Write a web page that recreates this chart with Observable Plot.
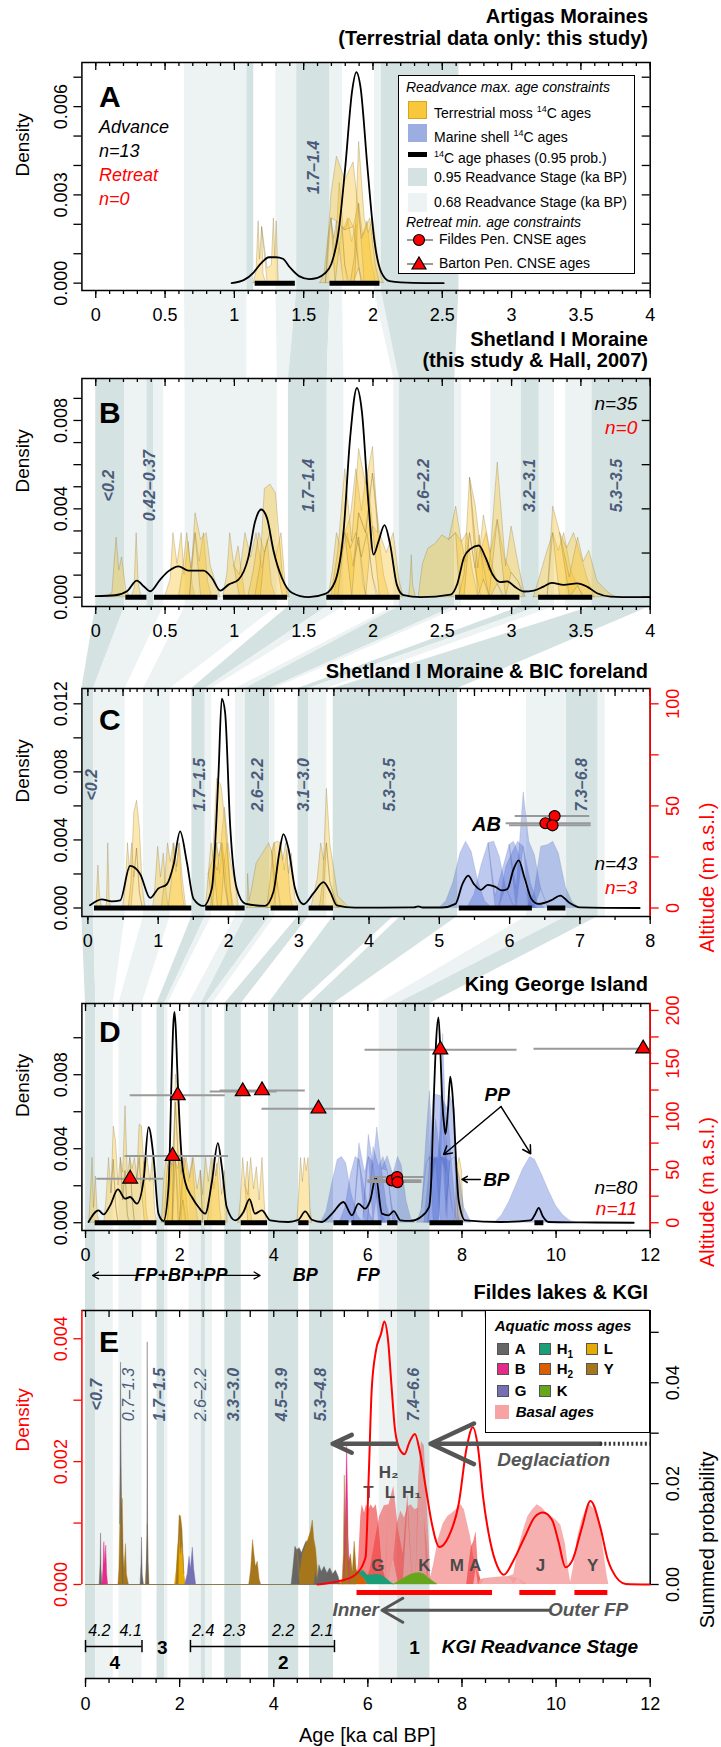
<!DOCTYPE html>
<html><head><meta charset="utf-8">
<script src="https://cdn.jsdelivr.net/npm/d3@7"></script>
<script src="https://cdn.jsdelivr.net/npm/@observablehq/plot@0.6"></script>
<style>
html,body{margin:0;padding:0;background:#fff;}
#root{position:relative;width:721px;height:1747px;overflow:hidden;font-family:"Liberation Sans",Arial,Helvetica,sans-serif;color:#000;}
.ttl{position:absolute;right:73px;font-weight:bold;font-size:20px;line-height:22px;white-space:nowrap;text-align:right;}
.lg{position:absolute;background:#fff;border:1.5px solid #000;box-sizing:border-box;}
.lg div{position:absolute;white-space:nowrap;line-height:18px;}
</style></head><body><div id="root"></div>
<script>
// ================= DATA =================
// stage bands [lo, hi, probability level]
const bandsA = [[0.64,1.09,68],[1.09,1.14,95],[1.30,1.45,68],[1.45,1.69,95],[1.69,1.78,68],[2.01,2.06,68],[2.06,2.62,95]];
const bandsB = [[0,0.21,95],[0.21,0.37,68],[0.37,0.42,95],[0.42,0.49,68],[0.645,1.31,68],[1.39,1.67,95],[1.67,1.79,68],[2.15,2.19,68],[2.19,2.59,95],[2.59,2.64,68],[2.85,3.07,68],[3.07,3.2,95],[3.2,3.31,68],[3.39,3.58,68],[3.58,4.0,95]];
const bandsC = [[-0.085,0.08,95],[0.08,0.53,68],[0.79,1.17,68],[1.48,1.67,95],[1.67,1.76,68],[2.1,2.24,68],[2.24,2.59,95],[2.59,2.66,68],[2.99,3.14,95],[3.14,3.4,68],[3.49,5.26,95],[6.24,6.81,68],[6.81,7.26,95],[7.26,7.36,68]];
const bandsD = [[0,0.22,95],[0.22,0.59,68],[0.71,1.2,68],[1.52,1.68,95],[1.68,1.75,68],[2.2,2.46,68],[2.46,2.56,95],[2.56,2.7,68],[2.96,3.31,95],[3.89,4.53,95],[4.76,5.27,95],[6.24,6.63,68],[6.63,7.32,95]];
const bandsE = bandsD;
// connectors between panels [fromLo, fromHi, toLo, toHi, level]
const linkAB = [[0.64,1.09,0.645,1.09,68],[1.30,1.45,1.31,1.39,68],[1.45,1.69,1.39,1.67,95],[1.69,1.78,1.67,1.79,68],[2.01,2.06,2.15,2.19,68],[2.06,2.62,2.19,2.59,95]];
const linkBC = [[0,0.21,-0.085,0.08,95],[0.21,0.49,0.08,0.53,68],[0.645,1.31,0.79,1.17,68],[1.39,1.67,1.48,1.67,95],[1.67,1.79,1.67,1.76,68],[2.15,2.19,2.1,2.24,68],[2.19,2.59,2.24,2.59,95],[2.59,2.64,2.59,2.66,68],[3.07,3.2,2.99,3.14,95],[3.2,3.31,3.14,3.4,68],[3.58,4.0,3.49,5.26,95]];
const linkCD = [[-0.085,0.08,0,0.22,95],[0.08,0.53,0.22,0.59,68],[0.79,1.17,0.71,1.2,68],[1.48,1.67,1.52,1.68,95],[1.67,1.76,1.68,1.75,68],[2.1,2.24,2.2,2.46,68],[2.24,2.59,2.46,2.56,95],[2.59,2.66,2.56,2.7,68],[2.99,3.14,2.96,3.31,95],[3.49,4.35,3.89,4.53,95],[4.45,5.26,4.76,5.27,95],[6.24,6.81,6.24,6.63,68],[6.81,7.26,6.63,7.32,95]];

// stage labels [x, text]
const stageLabA = [[1.57,"1.7–1.4"]];
const stageLabB = [[0.093,"<0.2"],[0.39,"0.42–0.37"],[1.535,"1.7–1.4"],[2.365,"2.6–2.2"],[3.13,"3.2–3.1"],[3.76,"5.3–3.5"]];
const stageLabC = [[0.05,"<0.2"],[1.6,"1.7–1.5"],[2.42,"2.6–2.2"],[3.07,"3.1–3.0"],[4.3,"5.3–3.5"],[7.03,"7.3–6.8"]];
const stageLabEbold = [[0.24,"<0.7"],[1.59,"1.7–1.5"],[3.15,"3.3–3.0"],[4.18,"4.5–3.9"],[5.0,"5.3–4.8"],[6.97,"7.4–6.6"]];
const stageLabEplain = [[0.93,"0.7–1.3"],[2.46,"2.6–2.2"]];

// 14C age phases (0.95)
const phasesA = [[1.15,1.44],[1.69,2.05]];
const phasesB = [[0.217,0.369],[0.424,0.881],[0.922,1.384],[1.667,2.197],[2.596,3.06],[3.195,3.585]];
const phasesC = [[0.094,1.478],[1.677,2.237],[2.607,2.996],[3.147,3.494],[5.284,6.324],[6.54,6.80]];
const phasesD = [[0.205,1.516],[1.69,2.47],[2.53,2.98],[3.31,3.87],[4.53,4.75],[5.28,5.6],[5.66,6.3],[6.42,6.64],[7.32,8.03],[9.55,9.74]];

// summed density curves [age, density]
const kdeA = [[0.98,0],[1.07,0.00011],[1.14,0.00037],[1.19,0.00066],[1.25,0.00088],[1.3,0.00088],[1.35,0.00083],[1.4,0.00054],[1.47,0.00023],[1.54,0.00014],[1.6,0.00018],[1.65,0.00032],[1.7,0.00066],[1.75,0.00168],[1.8,0.00394],[1.85,0.00655],[1.88,0.00717],[1.91,0.00666],[1.96,0.00394],[2.01,0.00145],[2.06,0.00037],[2.12,0.00007],[2.29,0.00001],[2.51,0]];
const kdeB = [[0,0.00005],[0.14,0.00009],[0.225,0.00027],[0.297,0.00075],[0.345,0.0005],[0.393,0.00027],[0.465,0.0008],[0.525,0.00118],[0.597,0.0014],[0.67,0.0012],[0.778,0.0012],[0.838,0.00087],[0.898,0.0003],[0.958,0.00057],[1.03,0.0008],[1.1,0.00178],[1.15,0.00344],[1.193,0.00397],[1.235,0.00359],[1.283,0.00208],[1.343,0.00087],[1.415,0.0002],[1.535,0],[1.655,0.00015],[1.727,0.00072],[1.788,0.003],[1.835,0.0072],[1.884,0.00947],[1.92,0.0084],[1.968,0.0042],[2.004,0.00193],[2.04,0.00253],[2.083,0.00326],[2.124,0.00238],[2.172,0.00057],[2.22,0.00009],[2.344,0],[2.56,0.00012],[2.608,0.0006],[2.656,0.0018],[2.704,0.00219],[2.764,0.00234],[2.812,0.0018],[2.86,0.00106],[2.92,0.00068],[2.968,0.00072],[3.028,0.00045],[3.088,0.00026],[3.16,0.0003],[3.23,0.00048],[3.29,0.00065],[3.376,0.00056],[3.472,0.00063],[3.544,0.00048],[3.617,0.00018],[3.713,0.00003],[3.88,0],[4.0,0]];
const kdeC = [[0.03,0.00016],[0.198,0.00051],[0.34,0.00039],[0.46,0.00045],[0.6,0.00247],[0.743,0.002],[0.886,0.00059],[1.0,0.00114],[1.12,0.00138],[1.218,0.00252],[1.312,0.0045],[1.407,0.00272],[1.502,0.00055],[1.644,0.00012],[1.763,0.00114],[1.858,0.00785],[1.905,0.0123],[1.952,0.0115],[2.024,0.00485],[2.118,0.00114],[2.237,0.00026],[2.52,0.00012],[2.64,0.00095],[2.725,0.0033],[2.782,0.00434],[2.853,0.0035],[2.948,0.00114],[3.067,0.00022],[3.21,0.00087],[3.352,0.00152],[3.447,0.00095],[3.541,0.00016],[3.8,0.00002],[4.64,0.00004],[4.7,0.0001],[4.76,0.00003],[5.04,0.00003],[5.23,0.00024],[5.33,0.00142],[5.41,0.0019],[5.49,0.00142],[5.59,0.00107],[5.69,0.00136],[5.79,0.00126],[5.89,0.00103],[5.97,0.00112],[6.05,0.00221],[6.13,0.0028],[6.21,0.00181],[6.31,0.00053],[6.41,0.00024],[6.6,0.00047],[6.72,0.00073],[6.84,0.00034],[7.0,0.00004],[7.85,0]];
const kdeD = [[0.064,0.00004],[0.276,0.00067],[0.383,0.00045],[0.524,0.00094],[0.687,0.0018],[0.843,0.0013],[0.949,0.00139],[1.09,0.00103],[1.233,0.00229],[1.339,0.00517],[1.445,0.00355],[1.55,0.00049],[1.658,0.00009],[1.764,0.00193],[1.835,0.0084],[1.865,0.0107],[1.89,0.0114],[1.918,0.0105],[1.948,0.0084],[2.047,0.00337],[2.118,0.0022],[2.26,0.00139],[2.4,0.00085],[2.543,0.00049],[2.685,0.0022],[2.812,0.0043],[2.897,0.003],[3.0,0.00085],[3.18,0.00013],[3.357,0.00058],[3.485,0.00128],[3.6,0.00049],[3.747,0.00067],[3.925,0.00013],[4.31,0.00004],[4.526,0.00016],[4.668,0.00061],[4.81,0.00016],[5.02,0.00004],[5.24,0.00049],[5.48,0.00112],[5.66,0.0004],[5.8,0.00103],[5.94,0.00076],[6.05,0.00121],[6.17,0.00247],[6.3,0.00049],[6.44,0.0004],[6.55,0.00063],[6.69,0.00013],[6.9,0.0001],[7.12,0.0003],[7.3,0.00085],[7.35,0.0025],[7.4,0.0066],[7.45,0.0098],[7.5,0.0111],[7.54,0.0093],[7.58,0.0066],[7.62,0.0053],[7.65,0.0048],[7.7,0.006],[7.75,0.0079],[7.79,0.0072],[7.83,0.0057],[7.88,0.003],[7.93,0.0012],[8.07,0.00013],[8.82,0.00004],[9.46,0.00013],[9.56,0.00049],[9.63,0.0008],[9.72,0.00034],[9.84,0.00004],[10.52,0.00002],[11.65,0]];

// terrestrial moss 14C age distributions [age, density]
const yellowA = [
 [[1.14,0],[1.16,0.0004],[1.175,0.0021],[1.185,0.0008],[1.2,0.0019],[1.21,0.0003],[1.23,0]],
 [[1.2,0],[1.24,0.0005],[1.27,0.0006],[1.285,0.0022],[1.295,0.0009],[1.305,0.0021],[1.32,0]],
 [[1.62,0],[1.65,0.0003],[1.68,0.0016],[1.7,0.0022],[1.72,0.0015],[1.74,0.0021],[1.76,0.0012],[1.78,0.0019],[1.8,0.0006],[1.82,0]],
 [[1.7,0],[1.73,0.001],[1.76,0.0022],[1.79,0.0018],[1.82,0.0022],[1.85,0.0014],[1.88,0.002],[1.9,0.0005],[1.92,0]],
 [[1.78,0],[1.8,0.0012],[1.83,0.0022],[1.86,0.0019],[1.9,0.0022],[1.93,0.0016],[1.96,0.0021],[1.99,0.0008],[2.02,0]],
 [[1.84,0],[1.87,0.0009],[1.9,0.0021],[1.94,0.0022],[1.97,0.0017],[2.0,0.0022],[2.03,0.0011],[2.06,0.0002],[2.08,0]],
 [[1.66,0],[1.7,0.0008],[1.74,0.0022],[1.8,0.0017],[1.86,0.0022],[1.92,0.0015],[1.98,0.0022],[2.02,0.0006],[2.05,0]]
];
const yellowB = [
 [[0.08,0],[0.12,0.0002],[0.15,0.0027],[0.17,0.0012],[0.19,0.0018],[0.22,0.0003],[0.25,0]],
 [[0.26,0],[0.28,0.0004],[0.295,0.0029],[0.31,0.0006],[0.33,0]],
 [[0.5,0],[0.54,0.0008],[0.56,0.0029],[0.59,0.0015],[0.62,0.0029],[0.64,0.001],[0.67,0.0025],[0.7,0.0005],[0.72,0]],
 [[0.6,0],[0.63,0.0012],[0.66,0.0029],[0.69,0.0013],[0.72,0.0029],[0.75,0.0016],[0.78,0.0029],[0.81,0.0007],[0.84,0]],
 [[0.68,0],[0.72,0.0009],[0.76,0.0026],[0.8,0.0029],[0.83,0.0014],[0.86,0.0008],[0.9,0]],
 [[0.92,0],[0.95,0.0011],[0.97,0.0029],[1.0,0.0014],[1.03,0.0023],[1.06,0.0009],[1.08,0]],
 [[1.0,0],[1.04,0.001],[1.08,0.0029],[1.12,0.0018],[1.16,0.0029],[1.2,0.0013],[1.24,0.0026],[1.27,0.0006],[1.3,0]],
 [[1.1,0],[1.14,0.0012],[1.18,0.0029],[1.22,0.002],[1.26,0.0029],[1.3,0.0018],[1.34,0.0029],[1.37,0.0006],[1.4,0]],
 [[1.15,0],[1.19,0.0015],[1.22,0.0029],[1.26,0.0022],[1.3,0.0029],[1.35,0.001],[1.39,0]],
 [[1.68,0],[1.71,0.0012],[1.74,0.0029],[1.78,0.002],[1.82,0.0029],[1.86,0.0014],[1.9,0.0027],[1.93,0.0006],[1.96,0]],
 [[1.72,0],[1.76,0.0016],[1.8,0.0029],[1.84,0.0022],[1.88,0.0029],[1.92,0.0018],[1.96,0.0029],[2.0,0.0009],[2.03,0]],
 [[1.8,0],[1.84,0.0014],[1.88,0.0029],[1.92,0.0021],[1.96,0.0029],[2.0,0.0023],[2.04,0.0029],[2.08,0.001],[2.12,0]],
 [[1.86,0],[1.9,0.0011],[1.95,0.0029],[2.0,0.0024],[2.05,0.0029],[2.1,0.002],[2.15,0.0029],[2.19,0.0008],[2.22,0]],
 [[1.7,0],[1.75,0.0021],[1.8,0.0029],[1.85,0.0025],[1.9,0.0029],[1.95,0.0022],[2.0,0.0012],[2.04,0]],
 [[2.26,0],[2.27,0.0006],[2.28,0.0019],[2.29,0.0005],[2.31,0]],
 [[2.33,0],[2.36,0.0015],[2.4,0.0022],[2.45,0.0024],[2.5,0.0028],[2.55,0.0026],[2.6,0.0029],[2.64,0.0025],[2.68,0.0029],[2.72,0.0012],[2.76,0]],
 [[2.55,0],[2.6,0.0012],[2.63,0.0029],[2.67,0.0016],[2.7,0.0029],[2.74,0.0013],[2.77,0.0028],[2.8,0.0008],[2.84,0]],
 [[2.62,0],[2.66,0.001],[2.7,0.0025],[2.74,0.0029],[2.78,0.0021],[2.82,0.0029],[2.86,0.0015],[2.9,0.0006],[2.94,0]],
 [[2.7,0],[2.76,0.0013],[2.8,0.0029],[2.85,0.002],[2.9,0.0029],[2.95,0.0018],[3.0,0.0011],[3.05,0.0007],[3.09,0]],
 [[2.78,0],[2.84,0.0012],[2.9,0.0026],[2.96,0.0014],[3.0,0.0021],[3.05,0.0008],[3.1,0]],
 [[3.16,0],[3.2,0.0008],[3.25,0.0019],[3.3,0.0029],[3.34,0.0021],[3.38,0.0029],[3.43,0.0012],[3.48,0.0005],[3.52,0]],
 [[3.26,0],[3.3,0.0012],[3.35,0.0029],[3.4,0.0022],[3.45,0.0029],[3.5,0.0019],[3.55,0.0008],[3.6,0]],
 [[3.35,0],[3.42,0.0009],[3.48,0.0022],[3.52,0.0016],[3.56,0.0021],[3.62,0.0007],[3.7,0.0002],[3.75,0]]
];
const yellowC = [
 [[0.12,0],[0.15,0.0025],[0.17,0.0008],[0.2,0],[0.27,0],[0.29,0.0038],[0.31,0.0005],[0.33,0]],
 [[0.5,0],[0.54,0.0012],[0.57,0.0038],[0.6,0.0022],[0.63,0.0038],[0.66,0.0018],[0.7,0.0035],[0.74,0.0009],[0.78,0]],
 [[0.58,0],[0.62,0.0015],[0.66,0.0038],[0.7,0.0028],[0.74,0.0038],[0.78,0.0012],[0.82,0]],
 [[0.93,0],[0.96,0.0012],[1.0,0.0036],[1.04,0.0018],[1.08,0.0032],[1.12,0.0009],[1.15,0]],
 [[1.05,0],[1.1,0.0016],[1.14,0.0038],[1.18,0.0027],[1.22,0.0038],[1.26,0.0021],[1.3,0.0038],[1.34,0.0011],[1.38,0]],
 [[1.15,0],[1.19,0.0014],[1.23,0.0038],[1.27,0.0024],[1.31,0.0038],[1.35,0.0017],[1.4,0]],
 [[1.68,0],[1.72,0.002],[1.76,0.0038],[1.8,0.0026],[1.84,0.0038],[1.88,0.002],[1.92,0.0038],[1.96,0.0012],[2.0,0]],
 [[1.75,0],[1.79,0.0018],[1.83,0.0038],[1.87,0.003],[1.91,0.0038],[1.95,0.0028],[1.99,0.0038],[2.04,0.001],[2.08,0]],
 [[1.8,0],[1.85,0.0022],[1.9,0.0038],[1.95,0.0031],[2.0,0.0038],[2.05,0.0024],[2.1,0.0015],[2.15,0]],
 [[1.72,0],[1.78,0.0028],[1.84,0.0038],[1.9,0.0034],[1.96,0.0038],[2.02,0.0016],[2.06,0]],
 [[2.27,0],[2.28,0.002],[2.3,0.0004],[2.34,0.0012],[2.4,0.0026],[2.46,0.003],[2.52,0.0034],[2.58,0.0038],[2.62,0.0033],[2.66,0.0038],[2.7,0.0015],[2.74,0]],
 [[2.55,0],[2.6,0.0016],[2.65,0.0038],[2.7,0.0024],[2.75,0.0038],[2.8,0.0022],[2.84,0.0034],[2.88,0.0008],[2.92,0]],
 [[2.62,0],[2.68,0.0014],[2.74,0.0038],[2.78,0.0028],[2.82,0.0038],[2.86,0.002],[2.9,0.0032],[2.95,0.0006],[3.0,0]],
 [[3.18,0],[3.22,0.0008],[3.27,0.0017],[3.32,0.0038],[3.36,0.0028],[3.4,0.0038],[3.45,0.0015],[3.5,0.0008],[3.58,0]],
 [[3.3,0],[3.35,0.0016],[3.4,0.0032],[3.45,0.0022],[3.5,0.0016],[3.56,0.0007],[3.65,0.0003],[3.72,0]]
];
const yellowD = [
 [[0.08,0],[0.12,0.0018],[0.15,0.0035],[0.18,0.0008],[0.22,0.0025],[0.26,0.0004],[0.3,0]],
 [[0.4,0],[0.45,0.0014],[0.5,0.0035],[0.55,0.0016],[0.6,0.0034],[0.65,0.0009],[0.7,0]],
 [[0.55,0],[0.6,0.0018],[0.65,0.0035],[0.7,0.002],[0.75,0.0035],[0.8,0.0012],[0.85,0.0028],[0.9,0.0004],[0.93,0]],
 [[0.75,0],[0.8,0.0015],[0.85,0.0035],[0.9,0.0021],[0.95,0.0035],[1.0,0.0013],[1.05,0]],
 [[0.95,0],[1.0,0.0016],[1.05,0.0035],[1.1,0.0024],[1.15,0.0035],[1.2,0.0017],[1.25,0.0033],[1.3,0.0006],[1.34,0]],
 [[1.1,0],[1.15,0.0018],[1.2,0.0035],[1.26,0.0026],[1.32,0.0035],[1.38,0.0022],[1.43,0.0035],[1.48,0.0006],[1.52,0]],
 [[1.62,0],[1.67,0.0022],[1.72,0.0035],[1.77,0.0028],[1.82,0.0035],[1.87,0.003],[1.92,0.0035],[1.97,0.0018],[2.02,0]],
 [[1.68,0],[1.73,0.0025],[1.78,0.0035],[1.84,0.0031],[1.9,0.0035],[1.96,0.0029],[2.02,0.0035],[2.08,0.0012],[2.12,0]],
 [[1.75,0],[1.8,0.002],[1.86,0.0035],[1.92,0.003],[1.98,0.0035],[2.04,0.0026],[2.1,0.0035],[2.16,0.001],[2.2,0]],
 [[1.85,0],[1.92,0.0015],[1.98,0.0035],[2.05,0.0027],[2.12,0.0035],[2.2,0.0022],[2.28,0.0035],[2.35,0.0009],[2.4,0]],
 [[2.0,0],[2.08,0.0014],[2.15,0.0035],[2.22,0.0024],[2.3,0.0035],[2.38,0.0018],[2.45,0.0028],[2.5,0]],
 [[2.45,0],[2.5,0.0015],[2.56,0.0035],[2.62,0.0022],[2.68,0.0035],[2.74,0.0018],[2.8,0.0032],[2.86,0.0008],[2.9,0]],
 [[2.6,0],[2.66,0.0018],[2.72,0.0035],[2.78,0.0025],[2.84,0.0035],[2.9,0.0015],[2.96,0.0028],[3.02,0]],
 [[3.25,0],[3.3,0.0012],[3.35,0.0035],[3.4,0.002],[3.45,0.0033],[3.5,0.0008],[3.55,0]],
 [[3.4,0],[3.46,0.0015],[3.52,0.0035],[3.58,0.0018],[3.64,0.003],[3.7,0.0012],[3.76,0.0035],[3.82,0.0005],[3.86,0]],
 [[4.5,0],[4.54,0.0015],[4.58,0.0035],[4.62,0.0022],[4.66,0.0035],[4.7,0.0028],[4.74,0.0035],[4.78,0.0008],[4.82,0]],
 [[7.85,0],[7.9,0.003],[7.95,0.0035],[8.0,0.0028],[8.04,0]]
];
// marine shell 14C age distributions
const blueC = [
 [[5.0,0],[5.1,0.0004],[5.2,0.0015],[5.3,0.0032],[5.38,0.0039],[5.46,0.0033],[5.55,0.0016],[5.65,0.0004],[5.75,0]],
 [[5.4,0],[5.5,0.0008],[5.6,0.0025],[5.7,0.0038],[5.78,0.0039],[5.86,0.003],[5.95,0.0012],[6.05,0.0002],[6.12,0]],
 [[5.7,0],[5.8,0.0007],[5.9,0.0022],[6.0,0.0037],[6.06,0.0039],[6.14,0.0031],[6.22,0.0013],[6.32,0.0002],[6.4,0]],
 [[5.85,0],[5.95,0.0012],[6.05,0.0031],[6.12,0.0039],[6.2,0.0036],[6.3,0.0015],[6.4,0.0003],[6.5,0]],
 [[6.0,0],[6.1,0.0011],[6.2,0.0032],[6.28,0.0039],[6.36,0.0031],[6.45,0.0011],[6.55,0]],
 [[6.25,0],[6.35,0.0008],[6.45,0.0025],[6.55,0.0037],[6.62,0.0039],[6.7,0.0032],[6.8,0.0012],[6.9,0.0003],[7.0,0]]
];
const blueD = [
 [[5.0,0],[5.12,0.0006],[5.25,0.0022],[5.36,0.0034],[5.45,0.00355],[5.54,0.0032],[5.65,0.0016],[5.78,0.0004],[5.9,0]],
 [[5.4,0],[5.52,0.0008],[5.64,0.0026],[5.74,0.00355],[5.82,0.0034],[5.92,0.002],[6.04,0.0005],[6.15,0]],
 [[5.7,0],[5.82,0.0009],[5.94,0.0027],[6.02,0.00355],[6.1,0.0033],[6.2,0.0016],[6.32,0.0003],[6.4,0]],
 [[5.9,0],[6.02,0.0012],[6.12,0.0031],[6.2,0.00355],[6.3,0.0029],[6.4,0.001],[6.5,0]],
 [[6.0,0],[6.12,0.001],[6.24,0.003],[6.33,0.00355],[6.42,0.0028],[6.52,0.0009],[6.62,0]],
 [[6.3,0],[6.42,0.0008],[6.54,0.0026],[6.64,0.00355],[6.72,0.0031],[6.82,0.0012],[6.92,0.0002],[7.0,0]],
 [[7.05,0],[7.15,0.0008],[7.25,0.0032],[7.32,0.00355],[7.45,0.0034],[7.6,0.00355],[7.75,0.0033],[7.85,0.00355],[7.95,0.0025],[8.05,0.0008],[8.2,0]],
 [[7.15,0],[7.25,0.0016],[7.32,0.00355],[7.4,0.0034],[7.5,0.00355],[7.6,0.0031],[7.68,0.0012],[7.75,0]],
 [[7.28,0],[7.35,0.002],[7.42,0.00355],[7.52,0.0034],[7.6,0.00355],[7.7,0.0026],[7.8,0.0008],[7.86,0]],
 [[7.35,0],[7.45,0.0022],[7.55,0.00355],[7.65,0.0034],[7.75,0.00355],[7.85,0.0026],[7.92,0.0005],[7.97,0]],
 [[7.2,0],[7.3,0.0025],[7.4,0.00355],[7.55,0.0033],[7.7,0.00355],[7.8,0.002],[7.9,0]],
 [[8.7,0],[8.85,0.0004],[9.0,0.0011],[9.15,0.002],[9.3,0.0029],[9.45,0.00355],[9.55,0.0034],[9.7,0.0026],[9.85,0.0017],[10.0,0.0009],[10.15,0.0004],[10.3,0.0001],[10.45,0]]
];

// CNSE retreat ages [age, altitude m, lo, hi]
const circC = [[6.51,41.5,5.95,7.16],[6.64,45,6.08,7.14],[6.61,40.5,6.0,7.16]];
const circD = [[6.51,39.9,6.0,7.15],[6.62,43,6.05,7.2],[6.63,38.3,6.0,7.15]];
const triD = [[0.949,41.4,0.24,1.66],[1.85,62.8,0.84,3.04],[1.96,120,0.95,2.97],[3.34,123.7,2.65,4.07],[3.75,124.6,2.86,4.67],[4.95,107.4,3.75,6.16],[7.54,163,5.94,9.17],[11.85,164,9.53,12]];

// Panel E: red density of basal ages [age, density]
const redE = [[4.93,0],[5.42,0.00006],[5.72,0.00015],[5.95,0.00044],[6.02,0.0018],[6.08,0.00315],[6.17,0.0038],[6.28,0.00408],[6.35,0.00428],[6.43,0.00397],[6.5,0.00326],[6.58,0.0025],[6.69,0.00218],[6.78,0.00212],[6.88,0.00231],[7.0,0.00245],[7.1,0.00218],[7.24,0.00153],[7.36,0.00099],[7.52,0.00061],[7.71,0.00077],[7.93,0.00131],[8.1,0.00223],[8.23,0.00256],[8.34,0.00223],[8.45,0.00142],[8.6,0.0007],[8.75,0.0003],[8.89,0.00016],[9.1,0.0004],[9.33,0.00077],[9.55,0.0011],[9.72,0.00117],[9.92,0.00104],[10.05,0.0007],[10.2,0.00028],[10.35,0.0004],[10.55,0.00093],[10.73,0.00136],[10.94,0.00093],[11.1,0.0004],[11.19,0.00023],[11.48,0.00001],[12,0]];
// aquatic moss ages (summed probability units): [lake, points]
const mossE = [
 ["A",[[0.3,0],[0.32,0.004],[0.33,0.0101],[0.34,0.003],[0.36,0]]],
 ["B",[[0.36,0],[0.38,0.003],[0.4,0.0084],[0.42,0.004],[0.44,0.0077],[0.46,0.002],[0.48,0]]],
 ["Y",[[0.7,0],[0.72,0.003],[0.74,0.012],[0.755,0.023],[0.77,0.015],[0.79,0.017],[0.81,0.006],[0.83,0.003],[0.86,0.008],[0.88,0.002],[0.92,0]]],
 ["A",[[0.74,0],[0.755,0.021],[0.77,0.004],[0.8,0]]],
 ["A",[[1.17,0],[1.19,0.004],[1.2,0.0093],[1.215,0.002],[1.24,0]]],
 ["Y",[[1.28,0],[1.31,0.006],[1.325,0.012],[1.34,0.004],[1.36,0]]],
 ["A",[[1.3,0],[1.315,0.01],[1.322,0.048],[1.33,0.01],[1.345,0]]],
 ["L",[[1.9,0],[1.94,0.003],[1.97,0.007],[2.0,0.0097],[2.03,0.006],[2.06,0.008],[2.1,0.002],[2.14,0]]],
 ["Y",[[1.93,0],[1.96,0.006],[1.98,0.0088],[2.0,0.004],[2.03,0.0075],[2.06,0.003],[2.1,0]]],
 ["G",[[2.12,0],[2.17,0.002],[2.21,0.0055],[2.24,0.003],[2.28,0.0073],[2.31,0.003],[2.35,0]]],
 ["Y",[[3.48,0],[3.52,0.003],[3.56,0.0088],[3.59,0.006],[3.62,0.0035],[3.66,0.0045],[3.7,0.001],[3.73,0]]],
 ["A",[[4.38,0],[4.42,0.0035],[4.46,0.0075],[4.5,0.0068],[4.55,0.0072],[4.6,0.0062],[4.65,0.0075],[4.7,0.0086],[4.75,0.0066],[4.8,0.0055],[4.85,0.004],[4.9,0.003],[4.95,0]]],
 ["Y",[[4.5,0],[4.56,0.002],[4.62,0.006],[4.68,0.0075],[4.74,0.009],[4.79,0.0105],[4.83,0.0127],[4.86,0.009],[4.9,0.004],[4.96,0]]],
 ["A",[[4.93,0],[4.97,0.0038],[5.02,0.0025],[5.08,0.0035],[5.14,0.0022],[5.2,0.0032],[5.26,0.002],[5.32,0.0028],[5.38,0.0015],[5.42,0]]],
 ["H2",[[5.4,0],[5.5,0.001],[5.6,0.0018],[5.7,0.0022],[5.8,0.0021],[5.9,0.0015],[5.98,0]]],
 ["Y",[[5.46,0],[5.49,0.006],[5.51,0.0216],[5.53,0.008],[5.56,0.017],[5.59,0.004],[5.64,0.006],[5.68,0.0024],[5.72,0.0085],[5.76,0.003],[5.8,0]]],
 ["B",[[5.5,0],[5.53,0.004],[5.56,0.0107],[5.59,0.005],[5.62,0]]],
 ["H1",[[5.8,0],[5.9,0.0013],[6.0,0.0018],[6.1,0.0019],[6.2,0.002],[6.3,0.0018],[6.4,0.0011],[6.5,0.0003],[6.55,0]]],
 ["K",[[6.55,0],[6.7,0.0008],[6.8,0.0014],[6.9,0.0019],[7.0,0.0022],[7.1,0.0023],[7.2,0.002],[7.3,0.0012],[7.4,0.0005],[7.48,0]]]
];
const mossColors = {A:"#666666",B:"#e7298a",G:"#7570b3",H1:"#1b9e77",H2:"#d95f02",K:"#66a61e",L:"#e6ab02",Y:"#a6761d"};
// basal ages (summed probability units): [colour, opacity, points]
const basalE = [
 ["#f2a0a0",0.85,[[8.3,0],[8.5,0.0012],[8.8,0.0015],[9.0,0.0016],[9.2,0.0012],[9.4,0]]],
 ["#f48e8e",0.75,[[7.3,0],[7.4,0.004],[7.5,0.009],[7.6,0.012],[7.7,0.0135],[7.8,0.0142],[7.9,0.015],[7.98,0.0158],[8.05,0.0148],[8.12,0.012],[8.18,0.0095],[8.24,0.006],[8.3,0.003],[8.4,0.001],[8.5,0]]],
 ["#f59c9c",0.8,[[9.0,0],[9.1,0.002],[9.2,0.006],[9.3,0.0105],[9.4,0.0135],[9.5,0.0148],[9.6,0.0158],[9.7,0.0152],[9.8,0.0142],[9.9,0.0135],[10.0,0.0128],[10.1,0.0118],[10.2,0.008],[10.28,0.002],[10.32,0]]],
 ["#f59c9c",0.8,[[10.3,0],[10.38,0.004],[10.45,0.009],[10.55,0.0128],[10.65,0.0152],[10.72,0.0158],[10.8,0.015],[10.88,0.0135],[10.95,0.011],[11.02,0.006],[11.08,0.002],[11.12,0]]],
 ["#e85a5a",0.55,[[6.45,0],[6.55,0.005],[6.62,0.012],[6.7,0.0145],[6.78,0.0132],[6.85,0.0154],[6.92,0.0158],[7.0,0.0148],[7.08,0.0152],[7.14,0.0125],[7.2,0.0135],[7.25,0.009],[7.3,0.003],[7.36,0]]],
 ["#e86060",0.55,[[7.02,0],[7.08,0.006],[7.14,0.0158],[7.2,0.014],[7.26,0.0158],[7.3,0.006],[7.34,0]]],
 ["#ef4444",0.55,[[5.95,0],[6.05,0.003],[6.15,0.0085],[6.25,0.0135],[6.35,0.0156],[6.45,0.0158],[6.55,0.0145],[6.65,0.011],[6.75,0.006],[6.85,0.0025],[6.95,0.0005],[7.0,0]]],
 ["#f03030",0.6,[[5.75,0],[5.8,0.004],[5.85,0.0135],[5.88,0.0158],[5.93,0.0142],[5.97,0.0158],[6.02,0.0148],[6.07,0.0158],[6.12,0.015],[6.18,0.0158],[6.22,0.013],[6.26,0.009],[6.3,0.004],[6.38,0.001],[6.45,0]]],
 ["#ee3030",0.6,[[8.1,0],[8.15,0.004],[8.2,0.0075],[8.25,0.0085],[8.3,0.0075],[8.35,0.003],[8.4,0]]]
];
// lake labels on basal ages [age, density-height, text]
const lakeLabE = [[6.01,0.0015,"T"],[6.47,0.0015,"L"],[6.93,0.0015,"H₁"],[6.44,0.00183,"H₂"],[6.21,0.00031,"G"],[7.2,0.00031,"K"],[7.89,0.00031,"M"],[8.28,0.00031,"A"],[9.67,0.00031,"J"],[10.78,0.00031,"Y"]];
const redBarsE = [[5.77,8.65],[9.23,10.0],[10.4,11.1]];
const subStageE = [[0.295,"4.2"],[0.96,"4.1"],[2.5,"2.4"],[3.16,"2.3"],[4.2,"2.2"],[5.03,"2.1"]];
const bracketsE = [[0,1.2],[2.23,5.29]];
const stageNumUpper = [[1.63,"3"],[6.99,"1"]];
const stageNumLower = [[0.62,"4"],[4.2,"2"]];

// axis tick values
const yTicksA = [0,0.001,0.002,0.003,0.004,0.005,0.006,0.007], yLabA = [0,0.003,0.006];
const yTicksB = [0,0.001,0.002,0.003,0.004,0.005,0.006,0.007,0.008,0.009], yLabB = [0,0.004,0.008];
const yTicksC = [0,0.002,0.004,0.006,0.008,0.01,0.012], yLabC = [0,0.004,0.008,0.012];
const yTicksD = [0,0.002,0.004,0.006,0.008,0.01], yLabD = [0,0.004,0.008];
const yTicksE = [0,0.001,0.002,0.003,0.004], yLabE = [0,0.002,0.004];
const altTicksC = [0,25,50,75,100], altLabC = [0,50,100];
const altTicksD = [0,25,50,75,100,125,150,175,200], altLabD = [0,50,100,150,200];
const sumTicksE = [0,0.01,0.02,0.03,0.04,0.05], sumLabE = [0,0.02,0.04];
const xLab4 = [0,0.5,1,1.5,2,2.5,3,3.5,4];
const xLab8 = [0,1,2,3,4,5,6,7,8];
const xLab12 = [0,2,4,6,8,10,12];

// ================= LAYOUT / STYLE =================
const root = document.getElementById("root");
const W = 721, ML = 81.4, MR = 71.3, IW = W - ML - MR;
const C95 = "#d4e2e2", C68 = "#edf3f3", LAB = "#4b5b79";
const YEL = "#f8c22a", YEL_S = "#8c7a4a", BLU = "#4a6ad4", BLU_S = "#4a5a9a";
const FONT = "Liberation Sans, Arial, Helvetica, sans-serif";
const KC = 0.00012, KD = 5.738e-5, KE = 0.0821;   // secondary-axis ratios
const GEOM = {
  A:{top:40, h:290, mt:22, mb:40},
  B:{top:356,h:290, mt:22, mb:40},
  C:{top:666,h:290, mt:22, mb:40},
  D:{top:981,h:309, mt:22, mb:60},
  E:{top:1288,h:459,mt:22, mb:69}
};
const ih = k => GEOM[k].h - GEOM[k].mt - GEOM[k].mb;

function flat(list){ return list.flatMap((pts,i)=>pts.map(([x,y])=>({id:i,x,y}))); }
function bandMark(b){ return Plot.rect(b,{x1:d=>d[0],x2:d=>d[1],fill:d=>d[2]===95?C95:C68}); }
const near = (arr,d)=>arr.some(v=>Math.abs(v-d)<1e-9);

function panel(key, xd, yd, marks){
  const g = GEOM[key];
  const chart = Plot.plot({
    width:W, height:g.h, marginTop:g.mt, marginBottom:g.mb, marginLeft:ML, marginRight:MR,
    style:{background:"transparent", overflow:"visible", fontFamily:FONT, color:"#000"},
    x:{domain:xd, axis:null}, y:{domain:yd, axis:null}, color:{type:"identity"},
    marks
  });
  chart.style.position = "absolute"; chart.style.left = "0px"; chart.style.top = g.top + "px";
  root.appendChild(chart);
  return chart;
}
function xAxes(key, major, minor, topMajor, topMinor){
  const H = ih(key);
  return [
    Plot.axisX(minor,{anchor:"bottom",tickSize:4,tickFormat:()=>"",label:null,strokeWidth:1.3}),
    Plot.axisX(major,{anchor:"bottom",tickSize:8,tickPadding:10,fontSize:18,tickFormat:d=>String(d),label:null,strokeWidth:1.3}),
    Plot.tickX(topMinor,{x:d=>d,insetBottom:H-4,strokeWidth:1.3}),
    Plot.tickX(topMajor,{x:d=>d,insetBottom:H-8,strokeWidth:1.3})
  ];
}
function yLeft(ticks, labels, fmt, color){
  return Plot.axisY(ticks,{anchor:"left",tickSize:8,tickPadding:7,tickRotate:-90,lineAnchor:"bottom",textAnchor:"middle",fontSize:18,color:color||"#000",strokeWidth:1.3,label:null,tickFormat:d=>near(labels,d)?fmt(d):""});
}
function yRightInward(ticks){ return Plot.tickY(ticks,{y:d=>d,insetLeft:IW-8,strokeWidth:1.3}); }
function yRightOut(ticks, labels, k, fmt, color){
  return Plot.axisY(ticks.map(t=>t*k),{anchor:"right",tickSize:8,tickPadding:8,tickRotate:-90,lineAnchor:"top",textAnchor:"middle",fontSize:18,color:color,strokeWidth:1.3,label:null,tickFormat:d=>{const t=ticks.find(v=>Math.abs(v*k-d)<1e-12);return (t!==undefined&&labels.includes(t))?fmt(t):"";}});
}
const f3 = d3.format(".3f"), f2 = d3.format(".2f");
const stageText = (lab, y, weight) => Plot.text(lab,{x:d=>d[0],y,text:d=>d[1],rotate:-90,fill:LAB,fontSize:16,fontWeight:weight,fontStyle:"italic"});
const yellowMark = list => Plot.areaY(flat(list),{x:"x",y:"y",z:"id",fill:YEL,fillOpacity:0.38,stroke:YEL_S,strokeWidth:0.6,strokeOpacity:0.55});
const blueMark = list => Plot.areaY(flat(list),{x:"x",y:"y",z:"id",fill:BLU,fillOpacity:0.36,stroke:BLU_S,strokeWidth:0.5,strokeOpacity:0.35});
const phaseMark = p => Plot.ruleY(p,{x1:d=>d[0],x2:d=>d[1],y:0,stroke:"#000",strokeWidth:5});
const kdeMark = k => Plot.line(k,{x:d=>d[0],y:d=>d[1],stroke:"#000",strokeWidth:1.8,curve:"monotone-x"});
const letter = (s, dy) => Plot.text([s],{frameAnchor:"top-left",dx:17,dy,text:d=>d,fontSize:30,fontWeight:"bold",textAnchor:"start",lineAnchor:"middle"});
const densLab = (dy, color) => Plot.text(["Density"],{frameAnchor:"left",dx:-59,dy:dy||0,text:d=>d,rotate:-90,fontSize:19,fill:color||"#000"});
const rightLab = (s, color, dy) => Plot.text([s],{frameAnchor:"right",dx:57,dy:dy||0,text:d=>d,rotate:-90,fontSize:20,fill:color});
const nLab = (s, color, anchor, dy) => Plot.text([s],{frameAnchor:anchor,dx:-13,dy,text:d=>d,fontSize:19,fontStyle:"italic",fill:color,textAnchor:"end",lineAnchor:"middle"});

// ================= PANEL A =================
const chartA = panel("A",[-0.1,4],[-0.00025,0.0075],[
  bandMark(bandsA),
  stageText(stageLabA,0.00394,"bold"),
  yellowMark(yellowA),
  phaseMark(phasesA),
  kdeMark(kdeA),
  Plot.frame({stroke:"#000",strokeWidth:1.5}),
  ...xAxes("A",xLab4,d3.range(0,4.001,0.1),xLab4,d3.range(0,4.001,0.1)),
  yLeft(yTicksA,yLabA,f3), yRightInward(yTicksA),
  letter("A",35),
  Plot.text(["Advance\nn=13"],{frameAnchor:"top-left",dx:17,dy:75,text:d=>d,fontSize:18,fontStyle:"italic",textAnchor:"start",lineAnchor:"middle",lineHeight:1.33}),
  Plot.text(["Retreat\nn=0"],{frameAnchor:"top-left",dx:17,dy:123,text:d=>d,fontSize:18,fontStyle:"italic",fill:"red",textAnchor:"start",lineAnchor:"middle",lineHeight:1.33}),
  densLab()
]);

// ================= PANEL B =================
const chartB = panel("B",[-0.1,4],[-0.00042,0.0099],[
  bandMark(bandsB),
  stageText(stageLabB,0.00505,"bold"),
  yellowMark(yellowB),
  phaseMark(phasesB),
  kdeMark(kdeB),
  Plot.frame({stroke:"#000",strokeWidth:1.5}),
  ...xAxes("B",xLab4,d3.range(0,4.001,0.1),xLab4,d3.range(0,4.001,0.1)),
  yLeft(yTicksB,yLabB,f3), yRightInward([0,0.002,0.004,0.006,0.008]),
  letter("B",35),
  nLab("n=35","#000","top-right",25), nLab("n=0","red","top-right",49),
  densLab()
]);

// ================= PANEL C =================
const chartC = panel("C",[-0.085,8],[-0.0005,0.0129],[
  bandMark(bandsC),
  stageText(stageLabC,0.00724,"bold"),
  yellowMark(yellowC),
  blueMark(blueC),
  phaseMark(phasesC),
  kdeMark(kdeC),
  Plot.ruleY(circC,{x1:d=>d[2],x2:d=>d[3],y:d=>d[1]*KC,stroke:"#999",strokeWidth:2}),
  Plot.dot(circC,{x:d=>d[0],y:d=>d[1]*KC,r:5.5,fill:"#f00",stroke:"#000",strokeWidth:1.2}),
  Plot.text(["AB"],{x:5.67,y:0.00493,text:d=>d,fontSize:20,fontWeight:"bold",fontStyle:"italic"}),
  Plot.frame({stroke:"#000",strokeWidth:1.5}),
  ...xAxes("C",xLab8,d3.range(0,8.001,0.5),d3.range(0,8.001,0.5),d3.range(0,8.001,0.1)),
  yLeft(yTicksC,yLabC,f3),
  yRightOut(altTicksC,altLabC,KC,d=>String(d),"red"),
  Plot.ruleX([8],{y1:-0.0005,y2:0.0129,stroke:"red",strokeWidth:1.5}),
  letter("C",32),
  nLab("n=43","#000","bottom-right",-53), nLab("n=3","red","bottom-right",-29),
  densLab(), rightLab("Altitude (m a.s.l.)","red")
]);

// ================= PANEL D =================
const chartD = panel("D",[-0.077,12],[-0.00042,0.01185],[
  bandMark(bandsD),
  yellowMark(yellowD),
  blueMark(blueD),
  phaseMark(phasesD),
  kdeMark(kdeD),
  Plot.ruleY(triD,{x1:d=>d[2],x2:d=>d[3],y:d=>d[1]*KD,stroke:"#999",strokeWidth:2}),
  Plot.ruleY(circD,{x1:d=>d[2],x2:d=>d[3],y:d=>d[1]*KD,stroke:"#999",strokeWidth:2}),
  Plot.dot(circD,{x:d=>d[0],y:d=>d[1]*KD,r:5.5,fill:"#f00",stroke:"#000",strokeWidth:1.2}),
  Plot.dot(triD,{x:d=>d[0],y:d=>d[1]*KD,r:5.5,symbol:"triangle",fill:"#f00",stroke:"#000",strokeWidth:1.2}),
  Plot.text(["PP"],{x:8.75,y:0.00689,text:d=>d,fontSize:19,fontWeight:"bold",fontStyle:"italic"}),
  Plot.arrow([[8.83,0.00628,7.61,0.00369],[8.83,0.00628,9.46,0.00373]],{x1:d=>d[0],y1:d=>d[1],x2:d=>d[2],y2:d=>d[3],stroke:"#000",strokeWidth:1.5,headLength:9}),
  Plot.arrow([[8.39,0.00234,8.0,0.00234]],{x1:d=>d[0],y1:d=>d[1],x2:d=>d[2],y2:d=>d[3],stroke:"#000",strokeWidth:1.5,headLength:8}),
  Plot.text(["BP"],{x:8.45,y:0.00234,text:d=>d,fontSize:19,fontWeight:"bold",fontStyle:"italic",textAnchor:"start"}),
  Plot.frame({stroke:"#000",strokeWidth:1.5}),
  ...xAxes("D",xLab12,d3.range(0,12.001,0.5),d3.range(0,12.001,1),d3.range(0,12.001,0.2)),
  yLeft(yTicksD,yLabD,f3),
  yRightOut(altTicksD,altLabD,KD,d=>String(d),"red"),
  Plot.ruleX([12],{y1:-0.00042,y2:0.01185,stroke:"red",strokeWidth:1.5}),
  letter("D",29),
  nLab("n=80","#000","bottom-right",-43), nLab("n=11","red","bottom-right",-22),
  Plot.arrow([[1.08,-0.00285,0.15,-0.00285],[2.98,-0.00285,3.71,-0.00285]],{x1:d=>d[0],y1:d=>d[1],x2:d=>d[2],y2:d=>d[3],stroke:"#000",strokeWidth:1.3,headLength:8}),
  Plot.text([[2.03,"FP+BP+PP"],[4.67,"BP"],[6.01,"FP"]],{x:d=>d[0],y:-0.00285,text:d=>d[1],fontSize:18,fontWeight:"bold",fontStyle:"italic"}),
  densLab(), rightLab("Altitude (m a.s.l.)","red")
]);

// ================= PANEL E =================
const yTopE = 0.00446, yBotE = -0.00153;
const mossT = mossE.flatMap((m,i)=>m[1].map(([x,y])=>({id:i,x,y:y*KE,c:mossColors[m[0]]})));
const basalT = basalE.flatMap((b,i)=>b[2].map(([x,y])=>({id:i,x,y:y*KE,c:b[0],o:b[1]})));
const chartE = panel("E",[-0.077,12],[yBotE,yTopE],[
  bandMark(bandsE),
  stageText(stageLabEbold,0.00309,"bold"),
  stageText(stageLabEplain,0.00309,"normal"),
  Plot.ruleY([0],{x1:0,x2:4.95,stroke:"#8c7a55",strokeWidth:1.2}),
  Plot.areaY(basalT,{x:"x",y:"y",z:"id",fill:"c",fillOpacity:"o"}),
  Plot.areaY(mossT,{x:"x",y:"y",z:"id",fill:"c",stroke:"c",strokeWidth:0.4}),
  Plot.text(lakeLabE,{x:d=>d[0],y:d=>d[1],text:d=>d[2],fontSize:17,fontWeight:"bold",fill:"#4a4a4a"}),
  Plot.line(redE,{x:d=>d[0],y:d=>d[1],stroke:"#ff0000",strokeWidth:2,curve:"monotone-x"}),
  Plot.arrow([[6.6,0.00229,5.25,0.00229],[10.94,0.00229,7.33,0.00229]],{x1:d=>d[0],y1:d=>d[1],x2:d=>d[2],y2:d=>d[3],stroke:"#555",strokeWidth:4.5,headLength:16,headAngle:50}),
  Plot.ruleY([0.00229],{x1:10.94,x2:12,stroke:"#333",strokeWidth:4,strokeDasharray:"2,2.5"}),
  Plot.text(["Deglaciation"],{x:9.95,y:0.00203,text:d=>d,fontSize:19,fontWeight:"bold",fontStyle:"italic",fill:"#555"}),
  Plot.ruleY(redBarsE,{x1:d=>d[0],x2:d=>d[1],y:-0.00013,stroke:"#f00",strokeWidth:5}),
  Plot.arrow([[9.86,-0.00042,6.3,-0.00042]],{x1:d=>d[0],y1:d=>d[1],x2:d=>d[2],y2:d=>d[3],stroke:"#555",strokeWidth:3,headLength:12}),
  Plot.text([[5.74,"Inner"],[10.68,"Outer FP"]],{x:d=>d[0],y:-0.00042,text:d=>d[1],fontSize:19,fontWeight:"bold",fontStyle:"italic",fill:"#555"}),
  Plot.text(subStageE,{x:d=>d[0],y:-0.00075,text:d=>d[1],fontSize:16,fontStyle:"italic"}),
  Plot.ruleY(bracketsE,{x1:d=>d[0],x2:d=>d[1],y:-0.00101,stroke:"#000",strokeWidth:1.5}),
  Plot.ruleX(bracketsE.flat(),{x:d=>d,y1:-0.00091,y2:-0.00111,stroke:"#000",strokeWidth:1.5}),
  Plot.text(stageNumUpper,{x:d=>d[0],y:-0.00103,text:d=>d[1],fontSize:19,fontWeight:"bold"}),
  Plot.text(stageNumLower,{x:d=>d[0],y:-0.00128,text:d=>d[1],fontSize:19,fontWeight:"bold"}),
  Plot.text(["KGI Readvance Stage"],{x:7.57,y:-0.00101,text:d=>d,fontSize:19,fontWeight:"bold",fontStyle:"italic",textAnchor:"start"}),
  // axes
  Plot.ruleY([yTopE],{stroke:"#000",strokeWidth:1.5}),
  Plot.ruleX([-0.077],{y1:0,y2:yTopE,stroke:"#f00",strokeWidth:1.5}),
  Plot.ruleX([12],{y1:0,y2:yTopE,stroke:"#000",strokeWidth:1.5}),
  Plot.ruleY([yBotE],{x1:0,x2:12,stroke:"#000",strokeWidth:1.5}),
  Plot.tickX(d3.range(0,12.001,0.5),{x:d=>d,insetBottom:ih("E")-7,strokeWidth:1.3}),
  Plot.axisX(d3.range(0,12.001,0.5),{anchor:"bottom",tickSize:5,tickFormat:()=>"",label:null,strokeWidth:1.3}),
  Plot.axisX(xLab12,{anchor:"bottom",tickSize:9,tickPadding:10,fontSize:18,tickFormat:d=>String(d),label:null,strokeWidth:1.3}),
  yLeft(yTicksE,yLabE,f3,"#f00"),
  yRightOut(sumTicksE,sumLabE,KE,f2,"#000"),
  letter("E",32),
  densLab(-43,"#f00"), rightLab("Summed probability","#000",-43)
]);

// ================= CONNECTING BANDS =================
const bg = d3.create("svg").attr("width",W).attr("height",1747).style("position","absolute").style("left","0px").style("top","0px");
root.insertBefore(bg.node(), root.firstChild);
function connect(cA, kA, cB, kB, links){
  const xa = cA.scale("x"), xb = cB.scale("x");
  const y0 = GEOM[kA].top + GEOM[kA].h - GEOM[kA].mb;
  const y1 = GEOM[kB].top + GEOM[kB].mt;
  for (const [a0,a1,b0,b1,t] of links){
    const pts = [[xa.apply(a0),y0],[xa.apply(a1),y0],[xb.apply(b1),y1],[xb.apply(b0),y1]];
    bg.append("polygon").attr("points",pts.map(p=>p.join(",")).join(" ")).attr("fill",t===95?C95:C68);
  }
}
connect(chartA,"A",chartB,"B",linkAB);
connect(chartB,"B",chartC,"C",linkBC);
connect(chartC,"C",chartD,"D",linkCD);
connect(chartD,"D",chartE,"E",bandsD.map(b=>[b[0],b[1],b[0],b[1],b[2]]));

// ================= TITLES =================
const titles = [["Artigas Moraines",16],["(Terrestrial data only: this study)",38],["Shetland I Moraine",339],["(this study & Hall, 2007)",360],["Shetland I Moraine & BIC foreland",671],["King George Island",984],["Fildes lakes & KGI",1292]];
for (const [t,y] of titles){ const d=document.createElement("div"); d.className="ttl"; d.style.top=(y-11)+"px"; d.textContent=t; root.appendChild(d); }
const xt = document.createElement("div");
Object.assign(xt.style,{position:"absolute",left:"0px",width:"721px",top:"1724px",fontSize:"20px",lineHeight:"22px"});
xt.innerHTML = `<span style="position:absolute;white-space:nowrap;left:${(chartE.scale("x").apply(6)).toFixed(1)}px;transform:translateX(-50%)">Age [ka cal BP]</span>`;
root.appendChild(xt);

// ================= LEGEND A =================
const lgA = document.createElement("div"); lgA.className="lg";
Object.assign(lgA.style,{left:"398px",top:"75px",width:"237px",height:"199px",fontSize:"14px"});
const row = (y,html,x,extra)=>`<div style="left:${x}px;top:${y-10.5}px;${extra||""}">${html}</div>`;
const sw = (y,h,bg,border)=>`<div style="left:9px;top:${y}px;width:19px;height:${h}px;background:${bg};${border||""}"></div>`;
lgA.innerHTML =
  row(12,"<i>Readvance max. age constraints</i>",7) +
  sw(25,18,"#f9c73c","border:1px solid #d8a420;box-sizing:border-box;") + row(34,"Terrestrial moss <sup style='font-size:9px'>14</sup>C ages",35) +
  sw(48,18,"#9cade2") + row(58,"Marine shell <sup style='font-size:9px'>14</sup>C ages",35) +
  sw(75.5,5,"#000") + row(79,"<sup style='font-size:9px'>14</sup>C age phases (0.95 prob.)",35) +
  sw(92,18,C95) + row(102,"0.95 Readvance Stage (ka BP)",35) +
  sw(117,19,C68) + row(127,"0.68 Readvance Stage (ka BP)",35) +
  row(147,"<i>Retreat min. age constraints</i>",7) +
  `<div style="left:8px;top:156px"><svg width="26" height="16"><line x1="0" y1="8" x2="26" y2="8" stroke="#999" stroke-width="2"/><circle cx="12" cy="8" r="5.5" fill="#f00" stroke="#000" stroke-width="1.2"/></svg></div>` +
  row(164,"Fildes Pen. CNSE ages",40) +
  `<div style="left:8px;top:179px"><svg width="26" height="16"><line x1="0" y1="9" x2="26" y2="9" stroke="#999" stroke-width="2"/><path d="M12,2 L19,14 L5,14 Z" fill="#f00" stroke="#000" stroke-width="1.2"/></svg></div>` +
  row(188,"Barton Pen. CNSE ages",40);
root.appendChild(lgA);

// ================= LEGEND E =================
const lgE = document.createElement("div"); lgE.className="lg";
Object.assign(lgE.style,{left:"484.7px",top:"1310px",width:"165.3px",height:"122.7px",fontSize:"15px",fontWeight:"bold"});
const cols = [[11,"A","A",39],[11,"B","B",59],[11,"G","G",81],[53,"H1","H<sub style='font-size:10px'>1</sub>",39],[53,"H2","H<sub style='font-size:10px'>2</sub>",59],[53,"K","K",81],[100,"L","L",39],[100,"Y","Y",59]];
let htmlE = row(16,"<i>Aquatic moss ages</i>",9);
for (const [x,k,lab,y] of cols){
  htmlE += `<div style="left:${x}px;top:${y-7}px;width:12px;height:12px;background:${mossColors[k]};border:1px solid #555;box-sizing:border-box"></div>`;
  htmlE += row(y,lab,x+18);
}
htmlE += `<div style="left:9px;top:94px;width:14px;height:14px;background:#f7a3a3"></div>` + row(102,"<i>Basal ages</i>",30);
lgE.innerHTML = htmlE;
root.appendChild(lgE);
</script></body></html>
